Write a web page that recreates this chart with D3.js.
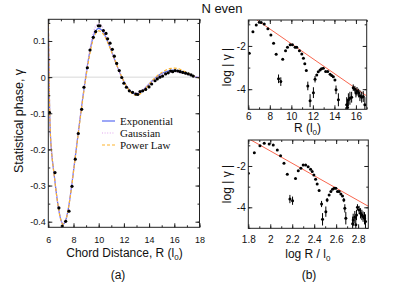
<!DOCTYPE html>
<html><head><meta charset="utf-8">
<script src="https://cdn.jsdelivr.net/npm/d3@7"></script>
<style>body{margin:0;background:#fff} svg{display:block} text{fill:#111}</style>
</head><body><svg id="c" width="395" height="305" font-family='"Liberation Sans", Arial, sans-serif'></svg>
<script>
// ---------- Panel (a) data ----------
const ptsR = [6.10,6.53,6.84,7.11,7.38,7.64,7.88,8.14,8.38,8.65,8.83,9.10,9.31,9.57,9.76,9.97,10.10,10.37,10.58,10.71,10.90,11.08,11.24,11.43,11.63,11.83,12.00,12.20,12.43,12.69,12.95,13.10,13.28,13.49,13.73,13.99,14.20,14.47,14.65,14.86,15.07,15.31,15.52,15.71,15.87,16.06,16.27,16.46,16.67,16.90,17.11,17.33,17.50];
const ptsGamma = [-0.098,-0.264,-0.362,-0.412,-0.399,-0.371,-0.302,-0.227,-0.156,-0.089,-0.028,0.026,0.075,0.110,0.126,0.142,0.142,0.129,0.121,0.106,0.094,0.077,0.058,0.038,0.018,-0.001,-0.017,-0.028,-0.038,-0.042,-0.047,-0.048,-0.040,-0.038,-0.034,-0.027,-0.019,-0.010,-0.005,0.000,0.003,0.009,0.012,0.017,0.015,0.018,0.017,0.015,0.013,0.011,0.009,0.006,0.003];

const fitR = [6.0,6.05,6.1,6.15,6.2,6.3,6.4,6.5,6.6,6.7,6.8,6.9,7.0,7.1,7.2,7.3,7.4,7.5,7.6,7.7,7.8,7.9,8.0,8.25,8.5,8.75,9.0,9.25,9.5,9.75,10.0,10.25,10.5,10.75,11.0,11.25,11.5,11.75,12.0,12.25,12.5,12.75,13.0,13.25,13.5,13.75,14.0,14.25,14.5,14.75,15.0,15.25,15.5,15.75,16.0,16.25,16.5,16.75,17.0,17.25,17.5,17.75,18.0];
const fitExponential = [0.15,0.04,-0.08,-0.145,-0.18,-0.222,-0.252,-0.280,-0.310,-0.337,-0.360,-0.380,-0.395,-0.404,-0.406,-0.403,-0.394,-0.380,-0.362,-0.340,-0.315,-0.288,-0.260,-0.190,-0.120,-0.053,0.008,0.062,0.104,0.128,0.135,0.130,0.115,0.095,0.073,0.050,0.027,0.006,-0.012,-0.027,-0.038,-0.045,-0.047,-0.044,-0.037,-0.028,-0.019,-0.010,-0.002,0.005,0.010,0.014,0.017,0.019,0.019,0.018,0.016,0.013,0.010,0.006,0.003,0.000,-0.002];
const fitGaussian = [0.16,0.05,-0.075,-0.14,-0.178,-0.222,-0.253,-0.281,-0.311,-0.338,-0.361,-0.381,-0.396,-0.404,-0.406,-0.402,-0.393,-0.379,-0.360,-0.338,-0.312,-0.285,-0.256,-0.186,-0.116,-0.052,0.010,0.066,0.112,0.140,0.148,0.141,0.121,0.097,0.072,0.048,0.025,0.004,-0.013,-0.027,-0.037,-0.043,-0.044,-0.041,-0.035,-0.027,-0.019,-0.011,-0.004,0.002,0.007,0.010,0.013,0.014,0.015,0.014,0.012,0.010,0.008,0.005,0.003,0.001,0.000];
const fitPowerLaw = [0.19,0.06,-0.075,-0.142,-0.18,-0.222,-0.253,-0.281,-0.311,-0.338,-0.361,-0.381,-0.396,-0.405,-0.407,-0.404,-0.395,-0.381,-0.363,-0.341,-0.316,-0.290,-0.262,-0.193,-0.124,-0.058,0.003,0.055,0.096,0.120,0.128,0.124,0.111,0.093,0.072,0.050,0.028,0.007,-0.012,-0.028,-0.040,-0.048,-0.050,-0.047,-0.040,-0.030,-0.020,-0.010,-0.001,0.007,0.013,0.018,0.022,0.024,0.025,0.024,0.021,0.017,0.013,0.008,0.004,0.000,-0.003];
const legendNames = ["Exponential","Gaussian","Power Law"];

const aXTicks = [6,8,10,12,14,16,18];
const aYTicks = [-0.4,-0.3,-0.2,-0.1,0,0.1];

// ---------- Panel (b) top data: log|gamma| vs R ----------
const topR = [6.09,6.43,6.74,7.02,7.20,7.48,7.82,8.10,8.35,8.59,8.81,9.02,9.20,9.46,9.64,9.89,10.10,10.35,10.50,10.75,10.97,11.12,11.25,11.39,11.53,11.74,12.05,12.20,12.36,12.50,12.67,12.80,12.97,13.19,13.38,13.60,13.75,13.90,14.05,14.15,14.37,15.14,15.22,15.30,15.44,15.60,15.75,15.90,16.00,16.10,16.25,16.37,16.53,16.68,16.83];
const topLogG = [-2.34,-1.34,-1.03,-0.90,-0.92,-0.98,-1.21,-1.49,-1.88,-2.38,-3.52,-3.65,-2.61,-2.22,-2.06,-1.95,-1.95,-2.06,-2.06,-2.22,-2.37,-2.57,-2.82,-3.14,-3.85,-4.53,-4.16,-3.54,-3.34,-3.19,-3.11,-3.06,-3.03,-3.18,-3.18,-3.31,-3.37,-3.42,-3.57,-4.03,-4.49,-4.72,-4.85,-4.49,-4.42,-4.37,-3.93,-4.00,-4.18,-4.10,-4.18,-4.30,-4.37,-4.34,-4.72];
const topErr = [0,0,0,0,0,0,0,0,0,0,0.2,0.2,0,0,0,0,0,0,0,0,0,0,0,0,0.2,0.3,0.25,0.15,0,0,0,0,0,0,0,0,0,0,0,0.2,0.3,0.35,0.35,0.3,0.3,0.25,0.15,0.15,0.2,0.2,0.2,0.25,0.25,0.25,0.35];
const topFitX = [6.8,17];
const topFitY = [-0.8,-4.31];
const topXTicks = [6,8,10,12,14,16];
const bYTicks = [-4,-2];

// ---------- Panel (b) bottom data: log|gamma| vs log R ----------
const botLogR = [1.80,1.855,1.906,1.945,1.99,2.027,2.064,2.094,2.125,2.155,2.179,2.203,2.23,2.255,2.279,2.30,2.322,2.345,2.367,2.382,2.397,2.413,2.427,2.445,2.467,2.476,2.506,2.518,2.536,2.552,2.567,2.582,2.597,2.612,2.627,2.643,2.658,2.67,2.679,2.688,2.75,2.755,2.77,2.779,2.785,2.794,2.809,2.822,2.834,2.845,2.858,2.867];
const botLogG = [-2.35,-1.36,-1.02,-0.90,-0.94,-0.98,-1.23,-1.50,-1.87,-2.40,-3.60,-3.68,-2.60,-2.23,-2.11,-1.95,-1.95,-2.04,-2.16,-2.27,-2.44,-2.64,-2.87,-3.19,-3.84,-4.58,-4.21,-3.65,-3.40,-3.24,-3.13,-3.08,-3.08,-3.24,-3.24,-3.35,-3.45,-3.65,-4.05,-4.53,-4.80,-4.61,-4.48,-4.85,-4.37,-4.00,-4.13,-4.29,-4.37,-4.45,-4.53,-4.69];
const botErr = [0,0,0,0,0,0,0,0,0,0,0.2,0.2,0,0,0,0,0,0,0,0,0,0,0,0,0.15,0.3,0.25,0.1,0,0,0,0,0,0,0,0,0,0.1,0.2,0.3,0.35,0.3,0.3,0.35,0.25,0.15,0.2,0.25,0.25,0.25,0.3,0.35];
const botFitX = [1.8,2.9];
const botFitY = [-0.67,-3.97];
const botXTicks = [1.8,2.0,2.2,2.4,2.6,2.8];

// ---------- helpers ----------
const svg = d3.select("#c");
const FONT = '"Liberation Sans", Arial, sans-serif';
const SERIF = '"Liberation Serif", "Times New Roman", serif';
const range = (a,b,s) => d3.range(Math.round(a/s), Math.round(b/s)+1).map(k => +(k*s).toFixed(6));

function frame(x, y, o) {
  const [x0,x1] = x.range(), [yb,yt] = y.range();
  const g = svg.append("g");
  const inside = v => v >= Math.min(...x.domain())-1e-9 && v <= Math.max(...x.domain())+1e-9;
  const insideY = v => v >= Math.min(...y.domain())-1e-9 && v <= Math.max(...y.domain())+1e-9;
  const xMin = o.xMinor.filter(inside), yMin = o.yMinor.filter(insideY);
  const xMaj = o.xMajor.filter(inside), yMaj = o.yMajor.filter(insideY);
  const put = (axis, tr) => {
    const a = g.append("g").attr("transform", tr).call(axis);
    a.select(".domain").remove();
    a.selectAll("line").attr("stroke", "#222");
    a.attr("font-family", FONT).attr("font-size", o.fs);
    a.selectAll("text").attr("fill", "#111");
    return a;
  };
  put(d3.axisBottom(x).tickValues(xMin).tickSize(-2).tickFormat(""), `translate(0,${yb})`);
  put(d3.axisTop(x).tickValues(xMin).tickSize(-2).tickFormat(""), `translate(0,${yt})`);
  put(d3.axisLeft(y).tickValues(yMin).tickSize(-2).tickFormat(""), `translate(${x0},0)`);
  put(d3.axisRight(y).tickValues(yMin).tickSize(-2).tickFormat(""), `translate(${x1},0)`);
  put(d3.axisBottom(x).tickValues(xMaj).tickSize(-4).tickPadding(o.xPad).tickFormat(o.xFmt), `translate(0,${yb})`);
  put(d3.axisTop(x).tickValues(xMaj).tickSize(-4).tickFormat(""), `translate(0,${yt})`);
  put(d3.axisLeft(y).tickValues(yMaj).tickSize(-4).tickPadding(o.yPad).tickFormat(o.yFmt), `translate(${x0},0)`);
  put(d3.axisRight(y).tickValues(yMaj).tickSize(-4).tickFormat(""), `translate(${x1},0)`);
  g.append("rect").attr("x", x0).attr("y", yt).attr("width", x1-x0).attr("height", yb-yt)
    .attr("fill", "none").attr("stroke", "#222").attr("stroke-width", 1);
}
function clip(id, x, y) {
  const [x0,x1] = x.range(), [yb,yt] = y.range();
  svg.append("clipPath").attr("id", id).append("rect")
    .attr("x", x0).attr("y", yt).attr("width", x1-x0).attr("height", yb-yt);
}
const fmtHyphen = d => (d === 0 ? "0" : String(+d.toFixed(1)));

// ---------- Panel (a) ----------
const xa = d3.scaleLinear().domain([6,18]).range([48.3,199.5]);
const ya = d3.scaleLinear().domain([-0.4155,0.16]).range([227.3,19.3]);
clip("ca", xa, ya);
const ga = svg.append("g").attr("clip-path","url(#ca)");
ga.append("line").attr("x1", xa(6)).attr("x2", xa(18)).attr("y1", ya(0)).attr("y2", ya(0))
  .attr("stroke", "#d8d8d8").attr("stroke-width", 1);

const fits = [
  {vals: fitExponential, color: "#5a6cf2", dash: null, w: 1.2},
  {vals: fitGaussian, color: "#e2a6ee", dash: "1,1.6", w: 1.2},
  {vals: fitPowerLaw, color: "#fdb32e", dash: "3,2", w: 1.2}
];
const lineA = d3.line().x(d => xa(d[0])).y(d => ya(d[1])).curve(d3.curveCatmullRom);
fits.forEach(f => {
  ga.append("path").datum(fitR.map((r,i) => [r, f.vals[i]]))
    .attr("d", lineA).attr("fill", "none").attr("stroke", f.color)
    .attr("stroke-width", f.w).attr("stroke-dasharray", f.dash);
});
ga.selectAll("circle.p").data(ptsR.map((r,i)=>[r, ptsGamma[i]])).join("circle")
  .attr("cx", d => xa(d[0])).attr("cy", d => ya(d[1])).attr("r", 1.6).attr("fill", "#000");

frame(xa, ya, {xMajor: aXTicks, xMinor: range(6,18,1), yMajor: aYTicks, yMinor: range(-0.45,0.15,0.05),
  xFmt: d => String(d), yFmt: fmtHyphen, xPad: 9, yPad: 2.5, fs: 9});

// legend
const lg = svg.append("g");
legendNames.forEach((name, i) => {
  const yy = 121 + i*12;
  lg.append("line").attr("x1", 102).attr("x2", 115).attr("y1", yy).attr("y2", yy)
    .attr("stroke", fits[i].color).attr("stroke-width", 1.2).attr("stroke-dasharray", fits[i].dash);
  lg.append("text").attr("x", 120).attr("y", yy + 3.8).text(name)
    .style("font-family", SERIF).attr("font-size", 11);
});

// axis titles (a)
svg.append("text").attr("transform", "translate(22.5,121) rotate(-90)").attr("text-anchor","middle")
  .attr("font-size", 12.5).text("Statistical phase, \u03b3");
const xt = svg.append("text").attr("x", 124.5).attr("y", 257).attr("text-anchor","middle").attr("font-size", 12);
xt.append("tspan").text("Chord Distance, R (l");
xt.append("tspan").attr("dy", 3).attr("font-size", 8).text("0");
xt.append("tspan").attr("dy", -3).text(")");
svg.append("text").attr("x", 118).attr("y", 279).attr("text-anchor","middle").attr("font-size", 12).text("(a)");

// ---------- Panel (b) top ----------
const xt1 = d3.scaleLinear().domain([6,17]).range([248.3,366.7]);
const yt1 = d3.scaleLinear().domain([-4.93,-0.8]).range([109.3,20]);
clip("cb1", xt1, yt1);
const gb1 = svg.append("g").attr("clip-path","url(#cb1)");
gb1.append("line").attr("x1", xt1(topFitX[0])).attr("y1", yt1(topFitY[0]))
  .attr("x2", xt1(topFitX[1])).attr("y2", yt1(topFitY[1])).attr("stroke", "#f8664e").attr("stroke-width", 1);
const topPts = topR.map((r,i) => ({x: r, y: topLogG[i], e: topErr[i]}));
gb1.selectAll("line.e").data(topPts.filter(d => d.e > 0)).join("line")
  .attr("x1", d => xt1(d.x)).attr("x2", d => xt1(d.x)).attr("y1", d => yt1(d.y - d.e)).attr("y2", d => yt1(d.y + d.e))
  .attr("stroke", "#000").attr("stroke-width", 1);
gb1.selectAll("circle").data(topPts).join("circle")
  .attr("cx", d => xt1(d.x)).attr("cy", d => yt1(d.y)).attr("r", 1.5).attr("fill", "#000");
frame(xt1, yt1, {xMajor: topXTicks, xMinor: range(6,17,1), yMajor: bYTicks, yMinor: range(-5,-1,1),
  xFmt: d => String(d), yFmt: d => String(d), xPad: 4, yPad: 2.6, fs: 10});
svg.append("text").attr("transform", "translate(231,67) rotate(-90)").attr("text-anchor","middle")
  .attr("font-size", 12).text("log | \u03b3 |");
const xl1 = svg.append("text").attr("x", 307.5).attr("y", 131.5).attr("text-anchor","middle").attr("font-size", 12);
xl1.append("tspan").text("R (l");
xl1.append("tspan").attr("dy", 3).attr("font-size", 8).text("0");
xl1.append("tspan").attr("dy", -3).text(")");

// ---------- Panel (b) bottom ----------
const xb2 = d3.scaleLinear().domain([1.8,2.8927]).range([248.3,368.3]);
const yb2 = d3.scaleLinear().domain([-5.016,-0.742]).range([228.3,140]);
clip("cb2", xb2, yb2);
const gb2 = svg.append("g").attr("clip-path","url(#cb2)");
gb2.append("line").attr("x1", xb2(botFitX[0])).attr("y1", yb2(botFitY[0]))
  .attr("x2", xb2(botFitX[1])).attr("y2", yb2(botFitY[1])).attr("stroke", "#f8664e").attr("stroke-width", 1);
const botPts = botLogR.map((r,i) => ({x: r, y: botLogG[i], e: botErr[i]}));
gb2.selectAll("line.e").data(botPts.filter(d => d.e > 0)).join("line")
  .attr("x1", d => xb2(d.x)).attr("x2", d => xb2(d.x)).attr("y1", d => yb2(d.y - d.e)).attr("y2", d => yb2(d.y + d.e))
  .attr("stroke", "#000").attr("stroke-width", 1);
gb2.selectAll("circle").data(botPts).join("circle")
  .attr("cx", d => xb2(d.x)).attr("cy", d => yb2(d.y)).attr("r", 1.5).attr("fill", "#000");
frame(xb2, yb2, {xMajor: botXTicks, xMinor: range(1.8,2.9,0.1), yMajor: bYTicks, yMinor: range(-5,-1,1),
  xFmt: d => String(+d.toFixed(1)), yFmt: d => String(d), xPad: 7.3, yPad: 2.6, fs: 10});
svg.append("text").attr("transform", "translate(231,184) rotate(-90)").attr("text-anchor","middle")
  .attr("font-size", 12).text("log | \u03b3 |");
const xl2 = svg.append("text").attr("x", 307.8).attr("y", 258).attr("text-anchor","middle").attr("font-size", 12);
xl2.append("tspan").text("log R / l");
xl2.append("tspan").attr("dy", 3).attr("font-size", 8).text("0");
svg.append("text").attr("x", 309).attr("y", 279).attr("text-anchor","middle").attr("font-size", 12).text("(b)");

// title
svg.append("text").attr("x", 222).attr("y", 13).attr("text-anchor","middle").attr("font-size", 13).text("N even");
</script></body></html>
